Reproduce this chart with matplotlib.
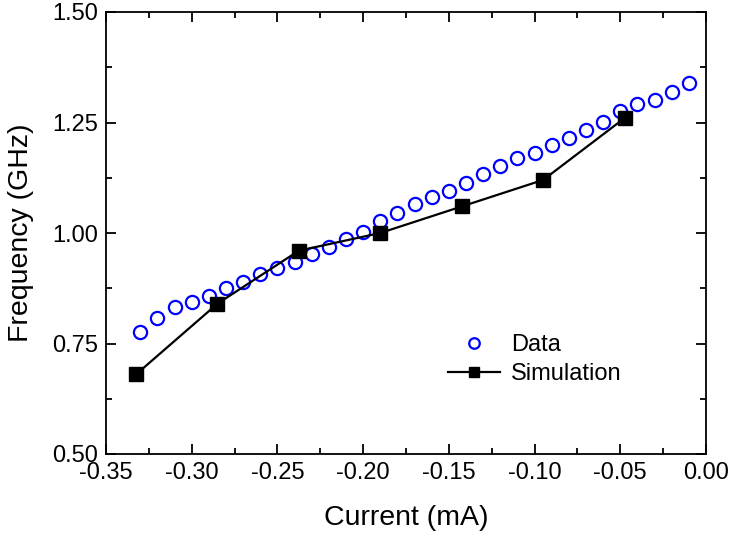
import numpy as np
import matplotlib
matplotlib.use("Agg")
import matplotlib.pyplot as plt
from matplotlib.ticker import MultipleLocator

plt.rcParams['font.family'] = ['Liberation Sans', 'DejaVu Sans']
plt.rcParams['axes.unicode_minus'] = False

# measured data (open circles)
data_x = [-0.33, -0.32, -0.31, -0.30, -0.29, -0.28, -0.27, -0.26, -0.25, -0.24,
          -0.23, -0.22, -0.21, -0.20, -0.19, -0.18, -0.17, -0.16, -0.15, -0.14,
          -0.13, -0.12, -0.11, -0.10, -0.09, -0.08, -0.07, -0.06, -0.05, -0.04,
          -0.03, -0.02, -0.01]
data_y = [0.777, 0.807, 0.832, 0.845, 0.858, 0.875, 0.890, 0.907, 0.920, 0.935,
          0.952, 0.969, 0.986, 1.003, 1.027, 1.046, 1.065, 1.082, 1.096, 1.114,
          1.133, 1.152, 1.170, 1.182, 1.199, 1.216, 1.233, 1.252, 1.276, 1.291,
          1.302, 1.318, 1.340]

# simulation (filled squares + line)
sim_x = [-0.3325, -0.285, -0.2375, -0.19, -0.1425, -0.095, -0.0475]
sim_y = [0.68, 0.84, 0.96, 1.00, 1.06, 1.12, 1.26]

fig = plt.figure(figsize=(7.3, 5.35), dpi=100)
ax = fig.add_axes([106 / 730, 1 - 454 / 535, 600 / 730, 442 / 535])

ax.plot(data_x, data_y, linestyle='none', marker='o', markersize=9.5,
        markerfacecolor='none', markeredgecolor='#0000ff', markeredgewidth=1.6,
        label='Data', zorder=2)
ax.plot(sim_x, sim_y, color='black', linewidth=1.6, marker='s', markersize=9.5,
        markerfacecolor='black', markeredgecolor='black', label='Simulation', zorder=3)

ax.set_xlim(-0.35, 0.0)
ax.set_ylim(0.5, 1.5)
ax.xaxis.set_major_locator(MultipleLocator(0.05))
ax.xaxis.set_minor_locator(MultipleLocator(0.025))
ax.yaxis.set_major_locator(MultipleLocator(0.25))
ax.yaxis.set_minor_locator(MultipleLocator(0.125))
ax.xaxis.set_major_formatter(plt.FormatStrFormatter('%.2f'))
ax.yaxis.set_major_formatter(plt.FormatStrFormatter('%.2f'))

ax.tick_params(which='both', direction='in', top=True, right=True, width=1.3)
ax.tick_params(which='major', length=7, labelsize=17, pad=6)
ax.tick_params(which='minor', length=4)
for sp in ax.spines.values():
    sp.set_linewidth(1.3)

ax.set_xlabel('Current (mA)', fontsize=20.5, labelpad=15)
ax.set_ylabel('Frequency (GHz)', fontsize=20.5, labelpad=13)

ax.legend(loc='center left', bbox_to_anchor=(0.535, 0.213), frameon=False,
          fontsize=17, handlelength=2.2, handletextpad=0.45, labelspacing=0.3,
          markerscale=0.8)

fig.savefig('out.png', dpi=100)
